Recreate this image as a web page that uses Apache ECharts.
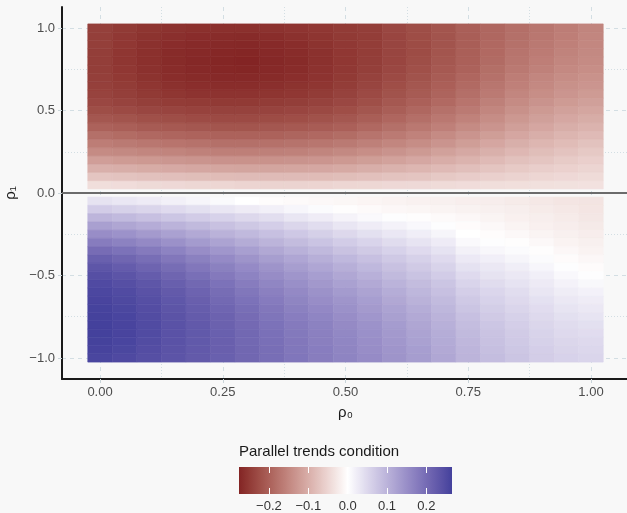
<!DOCTYPE html>
<html>
<head>
<meta charset="utf-8">
<script src="https://cdn.jsdelivr.net/npm/echarts@6/dist/echarts.min.js"></script>
<style>
  html, body { margin: 0; padding: 0; background: #f8f8f8; }
  #chart { width: 627px; height: 513px; }
</style>
</head>
<body>
<div id="chart"></div>
<script>
// grid of the simulation
const rho0 = [0, 0.05, 0.1, 0.15, 0.2, 0.25, 0.3, 0.35, 0.4, 0.45, 0.5, 0.55, 0.6, 0.65, 0.7, 0.75, 0.8, 0.85, 0.9, 0.95, 1];
const rho1Upper = [0.05, 0.1, 0.15, 0.2, 0.25, 0.3, 0.35, 0.4, 0.45, 0.5, 0.55, 0.6, 0.65, 0.7, 0.75, 0.8, 0.85, 0.9, 0.95, 1];
const rho1Lower = [-0.05, -0.1, -0.15, -0.2, -0.25, -0.3, -0.35, -0.4, -0.45, -0.5, -0.55, -0.6, -0.65, -0.7, -0.75, -0.8, -0.85, -0.9, -0.95, -1];

// parallel trends condition, one row per rho0, following rho1Upper
const condUpper = [
  [-0.040, -0.070, -0.097, -0.120, -0.145, -0.163, -0.180, -0.197, -0.212, -0.225, -0.233, -0.238, -0.242, -0.244, -0.245, -0.245, -0.245, -0.244, -0.243, -0.242],
  [-0.042, -0.073, -0.100, -0.124, -0.148, -0.167, -0.185, -0.202, -0.217, -0.230, -0.238, -0.244, -0.248, -0.251, -0.253, -0.254, -0.254, -0.253, -0.252, -0.250],
  [-0.045, -0.076, -0.103, -0.127, -0.151, -0.171, -0.190, -0.207, -0.222, -0.234, -0.243, -0.250, -0.255, -0.259, -0.261, -0.262, -0.262, -0.261, -0.259, -0.256],
  [-0.047, -0.078, -0.106, -0.130, -0.154, -0.174, -0.193, -0.210, -0.225, -0.237, -0.247, -0.255, -0.261, -0.265, -0.267, -0.268, -0.268, -0.266, -0.263, -0.260],
  [-0.049, -0.080, -0.108, -0.132, -0.157, -0.177, -0.196, -0.213, -0.228, -0.239, -0.249, -0.258, -0.264, -0.268, -0.271, -0.272, -0.271, -0.269, -0.266, -0.262],
  [-0.050, -0.082, -0.110, -0.135, -0.160, -0.180, -0.198, -0.215, -0.230, -0.240, -0.250, -0.258, -0.265, -0.270, -0.273, -0.274, -0.273, -0.271, -0.267, -0.262],
  [-0.052, -0.083, -0.111, -0.136, -0.160, -0.180, -0.198, -0.215, -0.229, -0.240, -0.250, -0.258, -0.265, -0.270, -0.274, -0.276, -0.274, -0.272, -0.268, -0.262],
  [-0.053, -0.083, -0.111, -0.136, -0.159, -0.179, -0.197, -0.213, -0.227, -0.238, -0.248, -0.256, -0.263, -0.268, -0.271, -0.272, -0.271, -0.269, -0.265, -0.260],
  [-0.053, -0.083, -0.110, -0.134, -0.157, -0.176, -0.194, -0.210, -0.224, -0.235, -0.245, -0.253, -0.259, -0.264, -0.267, -0.268, -0.267, -0.265, -0.261, -0.257],
  [-0.052, -0.082, -0.108, -0.131, -0.153, -0.172, -0.190, -0.206, -0.219, -0.231, -0.240, -0.248, -0.254, -0.258, -0.260, -0.261, -0.261, -0.259, -0.256, -0.253],
  [-0.050, -0.080, -0.105, -0.127, -0.148, -0.167, -0.184, -0.200, -0.213, -0.224, -0.233, -0.240, -0.246, -0.250, -0.252, -0.253, -0.253, -0.252, -0.250, -0.249],
  [-0.049, -0.077, -0.100, -0.121, -0.141, -0.159, -0.175, -0.190, -0.203, -0.214, -0.223, -0.230, -0.236, -0.240, -0.243, -0.245, -0.246, -0.246, -0.246, -0.245],
  [-0.047, -0.073, -0.095, -0.115, -0.134, -0.151, -0.166, -0.180, -0.192, -0.203, -0.211, -0.218, -0.224, -0.229, -0.233, -0.235, -0.236, -0.236, -0.235, -0.233],
  [-0.046, -0.070, -0.090, -0.108, -0.126, -0.142, -0.156, -0.169, -0.181, -0.191, -0.200, -0.207, -0.213, -0.218, -0.222, -0.225, -0.227, -0.227, -0.226, -0.225],
  [-0.044, -0.066, -0.084, -0.101, -0.117, -0.132, -0.145, -0.158, -0.169, -0.179, -0.188, -0.195, -0.201, -0.206, -0.210, -0.213, -0.215, -0.216, -0.216, -0.215],
  [-0.042, -0.062, -0.078, -0.093, -0.107, -0.121, -0.133, -0.145, -0.156, -0.166, -0.174, -0.181, -0.187, -0.192, -0.197, -0.200, -0.202, -0.203, -0.203, -0.202],
  [-0.040, -0.057, -0.071, -0.084, -0.097, -0.109, -0.121, -0.132, -0.142, -0.151, -0.159, -0.166, -0.172, -0.178, -0.182, -0.186, -0.188, -0.190, -0.191, -0.191],
  [-0.039, -0.053, -0.065, -0.076, -0.088, -0.099, -0.109, -0.119, -0.128, -0.137, -0.145, -0.152, -0.158, -0.163, -0.168, -0.172, -0.175, -0.178, -0.180, -0.181],
  [-0.038, -0.050, -0.060, -0.070, -0.080, -0.090, -0.100, -0.109, -0.118, -0.126, -0.134, -0.141, -0.147, -0.152, -0.157, -0.161, -0.165, -0.168, -0.170, -0.172],
  [-0.037, -0.047, -0.055, -0.064, -0.073, -0.082, -0.091, -0.100, -0.108, -0.116, -0.124, -0.131, -0.137, -0.142, -0.147, -0.151, -0.155, -0.158, -0.161, -0.163],
  [-0.036, -0.044, -0.051, -0.058, -0.066, -0.075, -0.084, -0.093, -0.102, -0.110, -0.118, -0.125, -0.131, -0.136, -0.141, -0.145, -0.148, -0.150, -0.152, -0.153]
];

// one row per rho0, following rho1Lower
const condLower = [
  [0.037, 0.066, 0.097, 0.126, 0.151, 0.176, 0.199, 0.217, 0.232, 0.243, 0.250, 0.255, 0.259, 0.262, 0.264, 0.265, 0.265, 0.264, 0.261, 0.257],
  [0.031, 0.060, 0.090, 0.118, 0.144, 0.168, 0.190, 0.208, 0.223, 0.235, 0.243, 0.249, 0.253, 0.256, 0.258, 0.259, 0.259, 0.258, 0.256, 0.252],
  [0.025, 0.054, 0.082, 0.109, 0.134, 0.157, 0.178, 0.196, 0.211, 0.223, 0.232, 0.238, 0.243, 0.246, 0.248, 0.249, 0.249, 0.248, 0.246, 0.243],
  [0.019, 0.047, 0.074, 0.100, 0.124, 0.146, 0.166, 0.183, 0.198, 0.210, 0.219, 0.226, 0.231, 0.234, 0.237, 0.238, 0.238, 0.238, 0.237, 0.235],
  [0.013, 0.040, 0.066, 0.091, 0.113, 0.133, 0.152, 0.169, 0.183, 0.195, 0.205, 0.212, 0.218, 0.222, 0.225, 0.227, 0.228, 0.228, 0.227, 0.226],
  [0.007, 0.033, 0.058, 0.081, 0.102, 0.121, 0.139, 0.155, 0.169, 0.180, 0.190, 0.198, 0.204, 0.209, 0.213, 0.215, 0.217, 0.218, 0.218, 0.217],
  [0.000, 0.026, 0.050, 0.072, 0.092, 0.110, 0.127, 0.142, 0.155, 0.166, 0.176, 0.184, 0.190, 0.196, 0.200, 0.203, 0.205, 0.206, 0.207, 0.207],
  [-0.003, 0.019, 0.042, 0.063, 0.082, 0.099, 0.115, 0.129, 0.142, 0.153, 0.162, 0.170, 0.177, 0.183, 0.187, 0.190, 0.193, 0.195, 0.196, 0.196],
  [-0.006, 0.012, 0.033, 0.053, 0.071, 0.088, 0.103, 0.117, 0.129, 0.140, 0.149, 0.157, 0.164, 0.169, 0.174, 0.178, 0.181, 0.183, 0.184, 0.185],
  [-0.008, 0.005, 0.024, 0.043, 0.061, 0.077, 0.092, 0.105, 0.117, 0.128, 0.137, 0.145, 0.152, 0.158, 0.163, 0.167, 0.170, 0.172, 0.174, 0.175],
  [-0.010, -0.002, 0.015, 0.033, 0.050, 0.066, 0.080, 0.093, 0.105, 0.116, 0.125, 0.133, 0.140, 0.146, 0.151, 0.156, 0.159, 0.162, 0.164, 0.165],
  [-0.012, -0.006, 0.008, 0.024, 0.040, 0.055, 0.069, 0.082, 0.093, 0.104, 0.113, 0.121, 0.128, 0.134, 0.139, 0.144, 0.147, 0.150, 0.152, 0.154],
  [-0.014, -0.009, 0.002, 0.016, 0.031, 0.045, 0.058, 0.070, 0.081, 0.091, 0.100, 0.108, 0.115, 0.121, 0.126, 0.131, 0.135, 0.138, 0.140, 0.142],
  [-0.016, -0.011, -0.002, 0.009, 0.022, 0.035, 0.047, 0.059, 0.069, 0.079, 0.088, 0.095, 0.102, 0.108, 0.113, 0.118, 0.122, 0.125, 0.128, 0.130],
  [-0.018, -0.013, -0.006, 0.003, 0.013, 0.025, 0.036, 0.047, 0.057, 0.066, 0.075, 0.082, 0.089, 0.095, 0.100, 0.104, 0.108, 0.111, 0.114, 0.116],
  [-0.020, -0.015, -0.009, -0.004, 0.000, 0.008, 0.018, 0.028, 0.038, 0.047, 0.055, 0.063, 0.070, 0.076, 0.082, 0.087, 0.091, 0.094, 0.097, 0.099],
  [-0.022, -0.018, -0.013, -0.008, -0.003, 0.003, 0.011, 0.020, 0.029, 0.037, 0.045, 0.052, 0.058, 0.064, 0.069, 0.074, 0.078, 0.081, 0.084, 0.086],
  [-0.025, -0.021, -0.017, -0.013, -0.008, -0.002, 0.005, 0.013, 0.021, 0.029, 0.036, 0.043, 0.049, 0.054, 0.059, 0.063, 0.067, 0.070, 0.073, 0.075],
  [-0.028, -0.025, -0.021, -0.017, -0.013, -0.008, -0.002, 0.005, 0.012, 0.020, 0.027, 0.033, 0.039, 0.044, 0.049, 0.053, 0.057, 0.060, 0.063, 0.065],
  [-0.031, -0.028, -0.025, -0.022, -0.018, -0.014, -0.009, -0.004, 0.002, 0.009, 0.016, 0.023, 0.029, 0.035, 0.040, 0.045, 0.049, 0.053, 0.056, 0.058],
  [-0.033, -0.031, -0.029, -0.026, -0.022, -0.018, -0.014, -0.009, -0.004, 0.002, 0.010, 0.017, 0.024, 0.030, 0.035, 0.040, 0.044, 0.048, 0.051, 0.054]
];

const xTicks = [0, 0.25, 0.5, 0.75, 1];
const xMinor = [0.125, 0.375, 0.625, 0.875];
const yTicks = [-1, -0.5, 0, 0.5, 1];
const yMinor = [-0.75, -0.25, 0.25, 0.75];
const legendTicks = [-0.2, -0.1, 0, 0.1, 0.2];

const cells = [];
rho0.forEach((x, i) => {
  rho1Upper.forEach((y, j) => cells.push([x, y, condUpper[i][j]]));
  rho1Lower.forEach((y, j) => cells.push([x, y, condLower[i][j]]));
});

let vmin = Infinity, vmax = -Infinity;
cells.forEach(c => { vmin = Math.min(vmin, c[2]); vmax = Math.max(vmax, c[2]); });
const halfX = (rho0[1] - rho0[0]) / 2;
const halfY = (rho1Upper[1] - rho1Upper[0]) / 2;

// gradient2-like colours (lab interpolation, white at 0)
function toLab(hex) {
  const rgb = [1, 3, 5].map(k => parseInt(hex.substr(k, 2), 16) / 255)
    .map(c => c <= 0.04045 ? c / 12.92 : Math.pow((c + 0.055) / 1.055, 2.4));
  const X = (0.4124564 * rgb[0] + 0.3575761 * rgb[1] + 0.1804375 * rgb[2]) / 0.95047;
  const Y = 0.2126729 * rgb[0] + 0.7151522 * rgb[1] + 0.0721750 * rgb[2];
  const Z = (0.0193339 * rgb[0] + 0.1191920 * rgb[1] + 0.9503041 * rgb[2]) / 1.08883;
  const f = t => t > 0.008856 ? Math.cbrt(t) : 7.787 * t + 16 / 116;
  return [116 * f(Y) - 16, 500 * (f(X) - f(Y)), 200 * (f(Y) - f(Z))];
}
function fromLab(lab) {
  const fy = (lab[0] + 16) / 116, fx = fy + lab[1] / 500, fz = fy - lab[2] / 200;
  const inv = t => t * t * t > 0.008856 ? t * t * t : (t - 16 / 116) / 7.787;
  const X = inv(fx) * 0.95047, Y = inv(fy), Z = inv(fz) * 1.08883;
  const lin = [
    3.2404542 * X - 1.5371385 * Y - 0.4985314 * Z,
    -0.9692660 * X + 1.8760108 * Y + 0.0415560 * Z,
    0.0556434 * X - 0.2040259 * Y + 1.0572252 * Z
  ];
  return '#' + lin.map(c => {
    c = c <= 0.0031308 ? 12.92 * c : 1.055 * Math.pow(c, 1 / 2.4) - 0.055;
    c = Math.round(Math.max(0, Math.min(1, c)) * 255);
    return (c < 16 ? '0' : '') + c.toString(16);
  }).join('');
}
const lowLab = toLab('#832424'), midLab = toLab('#ffffff'), highLab = toLab('#3a3a98');
const maxAbs = Math.max(-vmin, vmax);
function colourAt(v) {
  const s = v / (2 * maxAbs) + 0.5;
  const a = s < 0.5 ? lowLab : midLab, b = s < 0.5 ? midLab : highLab;
  const t = s < 0.5 ? s / 0.5 : (s - 0.5) / 0.5;
  return fromLab([0, 1, 2].map(k => a[k] + (b[k] - a[k]) * t));
}
const nStops = 100;
const stops = [];
for (let k = 0; k <= nStops; k++) stops.push(colourAt(vmin + (vmax - vmin) * k / nStops));

const FONT = 'Liberation Sans';
const minus = s => s.replace('-', '\u2212');
const gridCol = '#d3dee3';

const chart = echarts.init(document.getElementById('chart'));
chart.setOption({
  backgroundColor: '#f8f8f8',
  animation: false,
  textStyle: { fontFamily: FONT },
  title: {
    text: 'Parallel trends condition',
    left: 239, top: 444, padding: 0,
    textStyle: { fontSize: 15, fontWeight: 'normal', color: '#1a1a1a', fontFamily: FONT }
  },
  grid: [
    { left: 62, top: 7, right: -2, bottom: 134, outerBoundsMode: 'none', containLabel: false },
    { left: 239, top: 467, width: 213, height: 27, outerBoundsMode: 'none', containLabel: false }
  ],
  xAxis: [
    {
      type: 'value', gridIndex: 0, min: -0.0775, max: 1.0775,
      name: 'ρ₀', nameLocation: 'middle', nameGap: 26,
      nameTextStyle: { fontSize: 15, color: '#1a1a1a' },
      axisLine: { show: true, onZero: false, lineStyle: { color: '#1a1a1a', width: 2 } },
      axisTick: { show: true, length: 4, customValues: xTicks, lineStyle: { color: '#c9d4d9' } },
      axisLabel: { customValues: xTicks, margin: 7, fontSize: 13, color: '#4d4d4d', formatter: v => v.toFixed(2) },
      splitLine: { show: true, lineStyle: { color: gridCol, type: [4, 4] } }
    },
    {
      type: 'value', gridIndex: 0, min: -0.0775, max: 1.0775,
      axisLine: { show: false }, axisLabel: { show: false },
      axisTick: { show: false, customValues: xMinor },
      splitLine: { show: true, lineStyle: { color: gridCol, type: [1, 2] } }
    },
    {
      type: 'value', gridIndex: 1, min: vmin, max: vmax, z: 5,
      axisLine: { show: false },
      axisTick: { show: true, inside: true, length: 6, customValues: legendTicks, lineStyle: { color: '#ffffff', width: 1 } },
      axisLabel: { customValues: legendTicks, margin: 6, fontSize: 13, color: '#333', formatter: v => minus(v.toFixed(1)) },
      splitLine: { show: false }
    },
    {
      type: 'value', gridIndex: 1, position: 'top', min: vmin, max: vmax, z: 5,
      axisLine: { show: false }, axisLabel: { show: false },
      axisTick: { show: true, inside: true, length: 6, customValues: legendTicks, lineStyle: { color: '#ffffff', width: 1 } },
      splitLine: { show: false }
    }
  ],
  yAxis: [
    {
      type: 'value', gridIndex: 0, min: -1.1275, max: 1.1275,
      name: 'ρ₁', nameLocation: 'middle', nameGap: 43,
      nameTextStyle: { fontSize: 15, color: '#1a1a1a' },
      axisLine: { show: true, onZero: false, lineStyle: { color: '#1a1a1a', width: 2 } },
      axisTick: { show: true, length: 4, customValues: yTicks, lineStyle: { color: '#c9d4d9' } },
      axisLabel: { customValues: yTicks, margin: 7, fontSize: 13, color: '#4d4d4d', formatter: v => minus(v.toFixed(1)) },
      splitLine: { show: true, lineStyle: { color: gridCol, type: [4, 4] } }
    },
    {
      type: 'value', gridIndex: 0, min: -1.1275, max: 1.1275,
      axisLine: { show: false }, axisLabel: { show: false },
      axisTick: { show: false, customValues: yMinor },
      splitLine: { show: true, lineStyle: { color: gridCol, type: [1, 2] } }
    },
    { type: 'value', gridIndex: 1, min: 0, max: 1, show: false }
  ],
  visualMap: {
    show: false, type: 'continuous', seriesIndex: 0, dimension: 2,
    min: vmin, max: vmax, inRange: { color: stops }
  },
  graphic: [{
    type: 'rect', left: 239, top: 467, z: 1,
    shape: { width: 213, height: 27 },
    style: {
      fill: new echarts.graphic.LinearGradient(0, 0, 1, 0,
        stops.map((c, k) => ({ offset: k / nStops, color: c })))
    }
  }],
  series: [{
    type: 'custom',
    xAxisIndex: 0, yAxisIndex: 0,
    data: cells,
    renderItem: (params, api) => {
      const x = api.value(0), y = api.value(1);
      const p0 = api.coord([x - halfX, y + halfY]);
      const p1 = api.coord([x + halfX, y - halfY]);
      const c = api.visual('color');
      return {
        type: 'rect',
        shape: { x: p0[0], y: p0[1], width: p1[0] - p0[0], height: p1[1] - p0[1] },
        style: { fill: c, stroke: c, lineWidth: 0.6 }
      };
    },
    markLine: {
      silent: true, symbol: 'none', label: { show: false },
      lineStyle: { color: '#6b6b6b', width: 2, type: 'solid' },
      data: [{ yAxis: 0 }]
    }
  }]
});
</script>
</body>
</html>
